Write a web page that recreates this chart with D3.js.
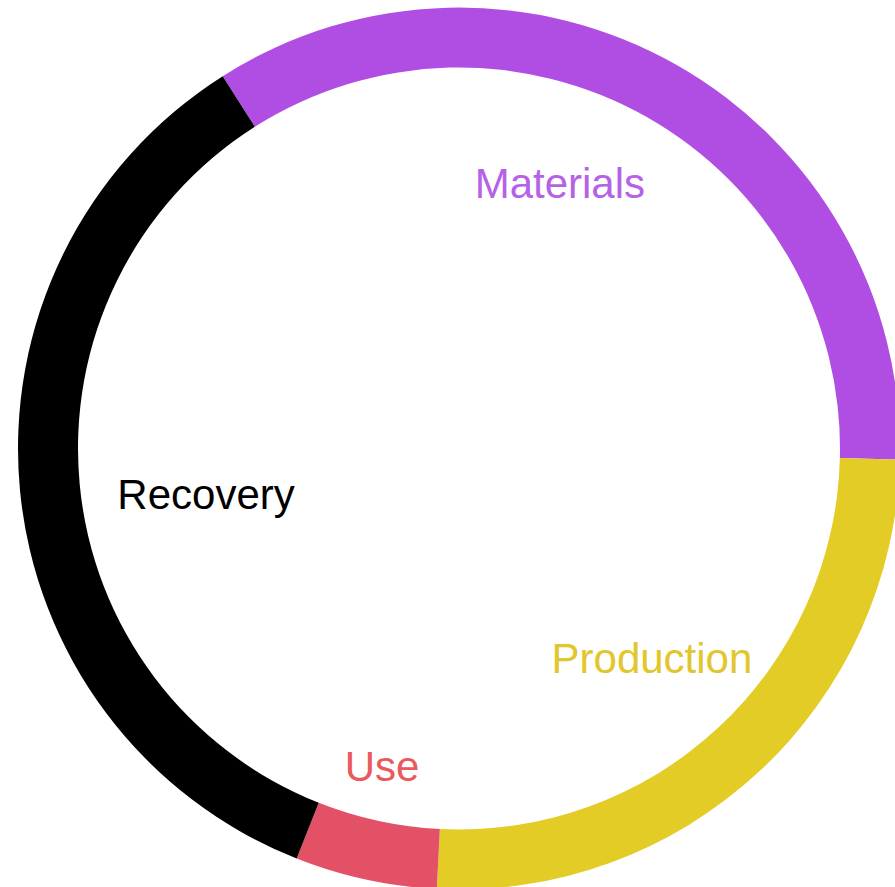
<!DOCTYPE html>
<html>
<head>
<meta charset="utf-8">
<script src="https://cdn.jsdelivr.net/npm/d3@7"></script>
<style>
  html, body { margin: 0; padding: 0; background: #fff; overflow: hidden; }
  svg { display: block; }
  text { font-family: "Liberation Sans", Arial, Helvetica, sans-serif; }
</style>
</head>
<body>
<svg id="chart" width="895" height="887"></svg>
<script>
// Data (clockwise order, starting at top-left)
const categories = ["Materials", "Production", "Use", "Recovery"];
const shares = [34.4, 25.4, 5.2, 35.0];
const colors = ["#b04ee3", "#e4cc26", "#e35166", "#000000"];
const textColors = ["#b662e6", "#e2c62c", "#ea5a5c", "#000000"];
const labelAngles = [20.8, 137.4, 193.6, 259.8];   // degrees, clockwise from 12 o'clock
const labelRadii = [284, 285, 327, 257];

const width = 895, height = 887;
const cx = 459, cy = 448.5;
const outerR = 441, innerR = 381;
const startDeg = -32.4;

const svg = d3.select("#chart");
const g = svg.append("g").attr("transform", `translate(${cx},${cy})`);

const data = categories.map((c, i) => ({ name: c, value: shares[i], color: colors[i], tcolor: textColors[i], la: labelAngles[i], lr: labelRadii[i] }));

const pie = d3.pie()
  .sort(null)
  .value(d => d.value)
  .startAngle(startDeg * Math.PI / 180)
  .endAngle((startDeg + 360) * Math.PI / 180);

const arc = d3.arc().innerRadius(innerR).outerRadius(outerR);

g.selectAll("path.slice")
  .data(pie(data))
  .join("path")
  .attr("class", "slice")
  .attr("d", arc)
  .attr("fill", d => d.data.color);

g.selectAll("text.label")
  .data(data)
  .join("text")
  .attr("class", "label")
  .attr("transform", d => {
    const p = d3.pointRadial(d.la * Math.PI / 180, d.lr);
    return `translate(${p[0]},${p[1]})`;
  })
  .attr("text-anchor", "middle")
  .attr("dominant-baseline", "central")
  .attr("font-size", 42)
  .attr("fill", d => d.tcolor)
  .text(d => d.name);
</script>
</body>
</html>
